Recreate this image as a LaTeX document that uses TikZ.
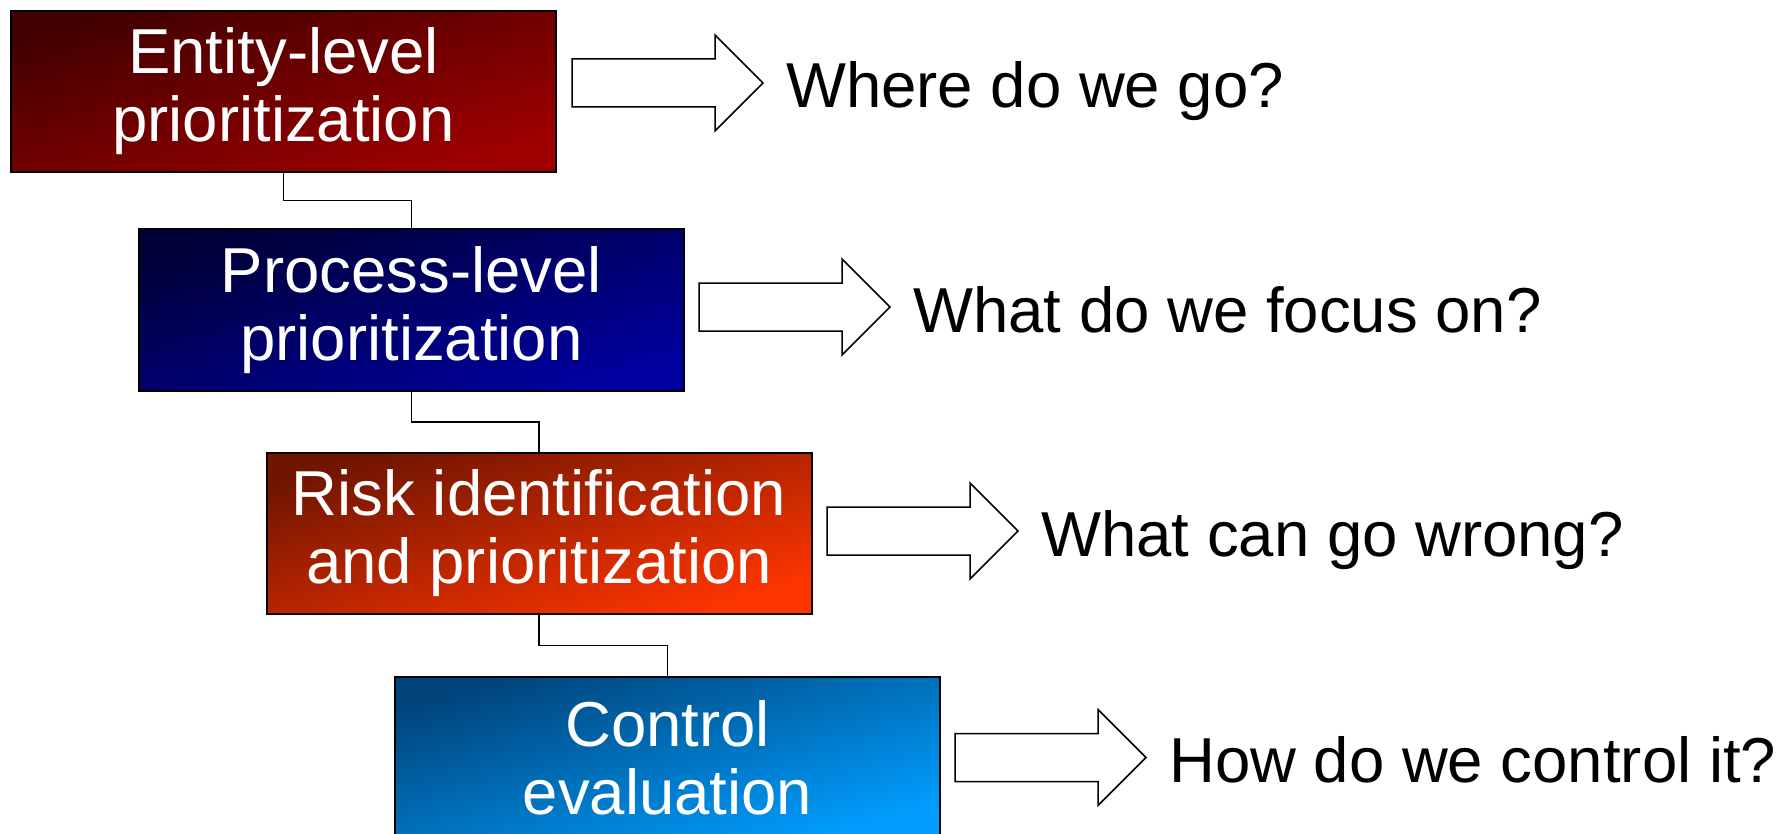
\documentclass[tikz,border=0pt]{standalone}
\usepackage{fontspec}
\setmainfont{Liberation Sans}
\usetikzlibrary{calc}

\definecolor{entityDark}{HTML}{420000}
\definecolor{entityLight}{HTML}{A00000}
\definecolor{processDark}{HTML}{000038}
\definecolor{processLight}{HTML}{0000A0}
\definecolor{riskDark}{HTML}{701500}
\definecolor{riskLight}{HTML}{FF3500}
\definecolor{controlDark}{HTML}{00447A}
\definecolor{controlLight}{HTML}{009EFF}

\begin{document}
\begin{tikzpicture}[x=1pt,y=-1pt,
  stage/.style 2 args={draw=black, line width=2pt, minimum width=545pt,
    minimum height=161pt, inner sep=0pt, text=white, align=center,
    font=\fontsize{63.5}{68}\selectfont,
    top color=#1, bottom color=#2, shading angle=16.5},
  link/.style={draw=black, line width=1.5pt},
  hollow/.style={draw=black, line width=1.5pt, fill=white, line join=miter},
  question/.style={anchor=base west, inner sep=0pt,
    font=\fontsize{63.5}{68}\selectfont}
]
\useasboundingbox (0,0) rectangle (1782,834);

% the four stages, stepping down and to the right
\node[stage={entityDark}{entityLight}]   (entity)  at (283.5,91.5) {Entity-level\\prioritization};
\node[stage={processDark}{processLight}] (process) at (411.5,310)  {Process-level\\prioritization};
\node[stage={riskDark}{riskLight}]       (risk)    at (539,533.5)  {Risk identification\\and prioritization};
\node[stage={controlDark}{controlLight}] (control) at (667.5,757.5) {Control\\evaluation};

% elbow links between consecutive stages
\draw[link] (entity.south)  |- ($(entity.south)!0.5!(process.north)$) -| (process.north);
\draw[link] (process.south) |- ($(process.south)!0.5!(risk.north)$)   -| (risk.north);
\draw[link] (risk.south)    |- ($(risk.south)!0.5!(control.north)$)   -| (control.north);

% hollow block arrows with their questions
\coordinate (g1) at (572,83);
\coordinate (g2) at (699,307);
\coordinate (g3) at (827,531);
\coordinate (g4) at (955,757.5);
\foreach \g in {g1,g2,g3,g4}{
  \draw[hollow] (\g) ++(0,-24) -- ++(143,0) -- ++(0,-24) -- ++(48,48)
    -- ++(-48,48) -- ++(0,-24) -- ++(-143,0) -- cycle;
}
\node[question] (q1) at ($(g1)+(214,25)$) {Where do we go?};
\node[question] (q2) at ($(g2)+(214,25)$) {What do we focus on?};
\node[question] (q3) at ($(g3)+(214,25)$) {What can go wrong?};
\node[question] (q4) at ($(g4)+(214,25)$) {How do we control it?};
\end{tikzpicture}
\end{document}
